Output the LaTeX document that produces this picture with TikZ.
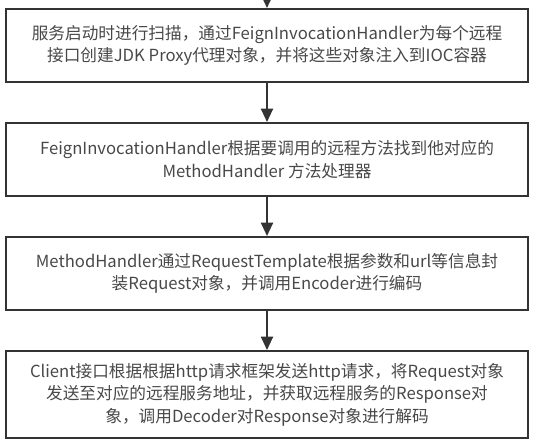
\documentclass[tikz,border=0pt]{standalone}
\usepackage{fontspec}
\setmainfont{Noto Sans CJK SC}
\usepackage{tikz}
\usetikzlibrary{arrows.meta,positioning}
\definecolor{boxline}{HTML}{333333}
\definecolor{boxtext}{HTML}{484848}
\tikzset{
  stepbox/.style={draw=boxline, line width=1.5pt, minimum width=391.5pt,
    minimum height=54.75pt, align=center, text=boxtext,
    font=\fontsize{12.5pt}{16.8pt}\selectfont, inner sep=0pt},
  flow/.style={draw=boxline, line width=1.5pt,
    -{Triangle[length=10pt,width=9pt]}}
}
\begin{document}
\begin{tikzpicture}[node distance=29.25pt]
	\useasboundingbox (0,0) rectangle (400.5pt,-329.25pt);
	\coordinate (top) at (200.25pt,1pt);
	\node[stepbox] (scan) at (200.25pt,-34.125pt) {服务启动时进行扫描，通过FeignInvocationHandler为每个远程\\接口创建JDK Proxy代理对象，并将这些对象注入到IOC容器};
	\node[stepbox] (find) [below=of scan] {FeignInvocationHandler根据要调用的远程方法找到他对应的\\MethodHandler 方法处理器};
	\node[stepbox] (encode) [below=of find] {MethodHandler通过RequestTemplate根据参数和url等信息封\\装Request对象，并调用Encoder进行编码};
	\node[stepbox, minimum height=65.25pt] (client) [below=of encode] {Client接口根据根据http请求框架发送http请求，将Request对象\\发送至对应的远程服务地址，并获取远程服务的Response对\\象，调用Decoder对Response对象进行解码};

	\draw[flow] (top) -- (scan);
	\draw[flow] (scan) -- (find);
	\draw[flow] (find) -- (encode);
	\draw[flow] (encode) -- (client);
\end{tikzpicture}
\end{document}
